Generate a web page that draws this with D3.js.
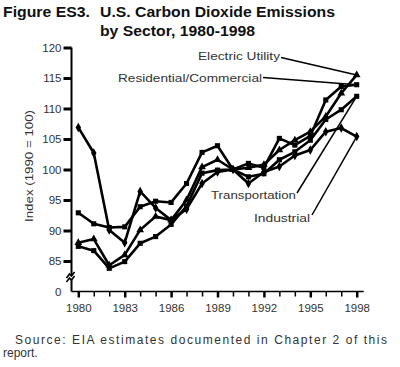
<!DOCTYPE html>
<html>
<head>
<meta charset="utf-8">
<script src="https://cdn.jsdelivr.net/npm/d3@7"></script>
<style>
  html, body { margin: 0; padding: 0; background: #fff; }
  svg { display: block; font-family: "Liberation Sans", Arial, sans-serif; }
</style>
</head>
<body>
<svg id="chart" width="400" height="367"></svg>
<script>
// ---- data ----
const years = d3.range(1980, 1999);
const electricUtility = [88.0, 88.6, 84.3, 86.0, 90.1, 92.3, 91.7, 95.0, 100.4, 101.6, 100, 100.3, 100.8, 103.2, 104.8, 106.2, 108.7, 112.5, 115.5];
const residentialCommercial = [87.4, 86.7, 83.8, 84.9, 87.9, 89.0, 91.0, 94.0, 99.4, 99.9, 100, 101.0, 100.3, 105.1, 104.0, 105.5, 111.4, 113.6, 113.9];
const transportation = [92.9, 91.1, 90.5, 90.6, 93.9, 94.8, 94.6, 97.7, 102.8, 103.9, 100, 98.8, 99.3, 101.6, 102.9, 104.8, 108.2, 109.8, 112.0];
const industrial = [106.9, 102.7, 90.1, 88.0, 96.4, 93.7, 91.7, 93.5, 97.7, 99.6, 100, 97.7, 99.6, 100.5, 102.3, 103.2, 106.2, 106.8, 105.4];
const seriesNames = ["Electric Utility", "Residential/Commercial", "Transportation", "Industrial"];
const yTickValues = [80, 85, 90, 95, 100, 105, 110, 115, 120];
const yTickLabels = ["0", "85", "90", "95", "100", "105", "110", "115", "120"];
const xTickLabelYears = [1980, 1983, 1986, 1989, 1992, 1995, 1998];
const titleLine1a = "Figure ES3.";
const titleLine1b = "U.S. Carbon Dioxide Emissions";
const titleLine2 = "by Sector, 1980-1998";
const yAxisTitle = "Index (1990 = 100)";
const sourceLine1 = "Source: EIA estimates documented in Chapter 2 of this";
const sourceLine2 = "report.";

const series = [
  {name: seriesNames[0], values: electricUtility, symbol: d3.symbolTriangle},
  {name: seriesNames[1], values: residentialCommercial, symbol: d3.symbolSquare},
  {name: seriesNames[2], values: transportation, symbol: d3.symbolSquare},
  {name: seriesNames[3], values: industrial, symbol: d3.symbolDiamond}
];

// ---- layout ----
const svg = d3.select("#chart");
const x = d3.scaleLinear().domain([1980, 1998]).range([78.3, 356.7]);
const y = d3.scaleLinear().domain([80, 120]).range([291.5, 47.5]);
const axisX = 71.5;

// title
const title = svg.append("g").attr("fill", "#111").attr("font-weight", "bold").attr("font-size", 14.5);
title.append("text").attr("x", 3).attr("y", 17.3).attr("textLength", 87).attr("lengthAdjust", "spacingAndGlyphs").text(titleLine1a);
title.append("text").attr("x", 100).attr("y", 17.3).attr("textLength", 235).attr("lengthAdjust", "spacingAndGlyphs").text(titleLine1b);
title.append("text").attr("x", 100).attr("y", 35.5).attr("textLength", 155).attr("lengthAdjust", "spacingAndGlyphs").text(titleLine2);

// y axis
const yAxis = d3.axisLeft(y).tickValues(yTickValues)
  .tickFormat((d, i) => yTickLabels[i]).tickSize(8).tickPadding(2);
const gy = svg.append("g").attr("transform", `translate(${axisX},0)`).call(yAxis);
gy.select(".domain").attr("stroke", "#000").attr("stroke-width", 2).attr("d", `M0,${y(120)}V${y(80)}`);
gy.selectAll(".tick line").attr("stroke", "#000").attr("stroke-width", 3);
gy.selectAll(".tick").filter(d => d === 80).select("line").remove();
gy.selectAll(".tick text").attr("font-size", 11.5).attr("fill", "#333")
  .attr("font-family", "Liberation Sans, Arial, sans-serif");

// axis break symbol
const brk = svg.append("g");
brk.append("rect").attr("x", axisX - 3).attr("y", y(82.6)).attr("width", 6).attr("height", 4).attr("fill", "#fff");
[0, 4].forEach(off => {
  brk.append("path")
    .attr("d", `M${axisX - 5},${y(82.2) + off}l3,-4l2,2l3,-4`)
    .attr("fill", "none").attr("stroke", "#000").attr("stroke-width", 1.6);
});

// x axis
const xAxis = d3.axisBottom(x).tickValues(years)
  .tickFormat(d => xTickLabelYears.includes(d) ? String(d) : "").tickSize(5).tickPadding(7);
const gx = svg.append("g").attr("transform", `translate(0,${y(80)})`).call(xAxis);
gx.select(".domain").attr("stroke", "#000").attr("stroke-width", 1.5).attr("d", `M${axisX},0H${x(1998) + 7}`);
gx.selectAll(".tick line").attr("stroke", "#000").attr("stroke-width", 1.5);
gx.selectAll(".tick").filter(d => xTickLabelYears.includes(d)).select("line").attr("stroke-width", 2.5).attr("y2", 6);
gx.selectAll(".tick text").attr("font-size", 11.5).attr("fill", "#333")
  .attr("font-family", "Liberation Sans, Arial, sans-serif");

// y axis title
svg.append("text").attr("transform", "translate(33,166) rotate(-90)")
  .attr("text-anchor", "middle").attr("font-size", 11).attr("fill", "#333")
  .attr("textLength", 112).attr("lengthAdjust", "spacingAndGlyphs").text(yAxisTitle);

// lines
const line = d3.line().x((d, i) => x(years[i])).y(d => y(d));
const plot = svg.append("g");
series.forEach(s => {
  plot.append("path").attr("d", line(s.values)).attr("fill", "none")
    .attr("stroke", "#000").attr("stroke-width", 2.6).attr("stroke-linejoin", "round");
  plot.selectAll(null).data(s.values).enter().append("path")
    .attr("transform", (d, i) => `translate(${x(years[i])},${y(d)})`)
    .attr("d", d3.symbol().type(s.symbol).size(26)).attr("fill", "#000");
});

// labels with leader lines
const labelDefs = [
  {s: series[0], tx: 198, ty: 60, len: 82, lx: 281, ly: 57.5},
  {s: series[1], tx: 118, ty: 81.5, len: 144, lx: 263, ly: 77.5},
  {s: series[2], tx: 211, ty: 199, len: 85, lx: 297, ly: 193},
  {s: series[3], tx: 254, ty: 221.5, len: 56, lx: 312, ly: 215}
];
const lab = svg.append("g");
labelDefs.forEach(L => {
  lab.append("text").attr("x", L.tx).attr("y", L.ty).attr("font-size", 11.5).attr("fill", "#333")
    .attr("textLength", L.len).attr("lengthAdjust", "spacingAndGlyphs").text(L.s.name);
  const v = L.s.values[L.s.values.length - 1];
  lab.append("line").attr("x1", L.lx).attr("y1", L.ly).attr("x2", x(1998)).attr("y2", y(v))
    .attr("stroke", "#000").attr("stroke-width", 1.5);
});

// source
const src = svg.append("g").attr("font-size", 12).attr("fill", "#333");
src.append("text").attr("x", 15).attr("y", 344).attr("textLength", 372).attr("lengthAdjust", "spacing").text(sourceLine1);
src.append("text").attr("x", 3).attr("y", 356.5).text(sourceLine2);
</script>
</body>
</html>
